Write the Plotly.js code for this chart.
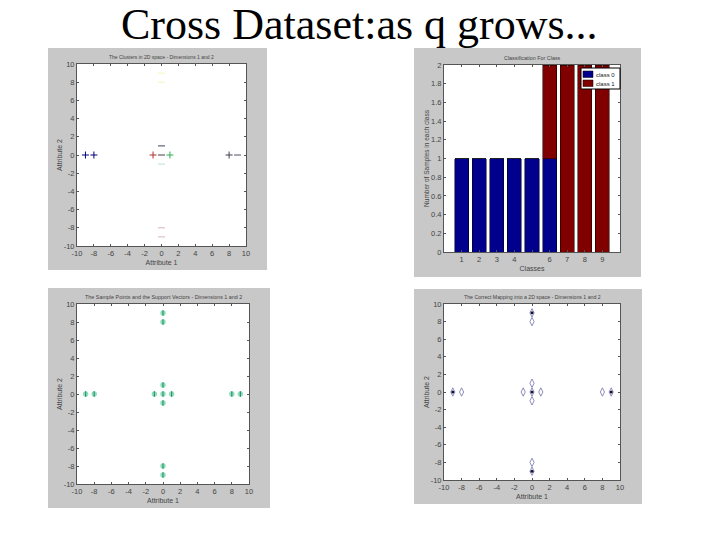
<!DOCTYPE html>
<html><head><meta charset="utf-8">
<script src="https://cdn.plot.ly/plotly-3.0.1.min.js"></script>
<style>html,body{margin:0;padding:0;background:#fff}#c{width:720px;height:540px}</style>
</head><body><div id="c"></div>
<script>
const clusterX=[[-9,-8],[-1],[0],[1],[8],[9],[0],[0],[0,0],[0,0]];
const clusterY=[[0,0],[0],[0],[0],[0],[0],[1],[-1],[8,9],[-8,-9]];
const clusterColors=['#000080','#b03030','#404040','#30b050','#404050','#505060','#404060','#b8e0e0','#f4f4c0','#d8b0c8'];
const clusterSymbols=['cross-thin','cross-thin','line-ew','cross-thin','cross-thin','line-ew','line-ew','line-ew','line-ew','line-ew'];
const allX=[-9,-8,-1,0,1,8,9,0,0,0,0,0,0];
const allY=[0,0,0,0,0,0,0,1,-1,8,9,-8,-9];
const svX=[-9,9,0,0,0];
const svY=[0,0,0,9,-9];
const classes=[1,2,3,4,5,6,7,8,9];
const class0=[1,1,1,1,1,1,0,0,0];
const class1=[0,0,0,0,0,1,2,2,2];
const classTicks=['1','2','3','4','','6','7','8','9'];
const rangeTicks=[-10,-8,-6,-4,-2,0,2,4,6,8,10];
const barTicks=[0,0.2,0.4,0.6,0.8,1,1.2,1.4,1.6,1.8,2];
const barTickText=['0','0.2','0.4','0.6','0.8','1','1.2','1.4','1.6','1.8','2'];
const legendLabels=['class 0','class 1'];
const legendColors=['#00008c','#800000'];

const W=720,H=540;
const panels=[
 {g:[48,48,267,270],a:[77,64,246,246]},
 {g:[414,48,641,277],a:[444,65,620,252]},
 {g:[48,288,270,508],a:[77,304,249,484]},
 {g:[414,289,642,504],a:[444,304,620,480]}];
const titles=['The Clusters in 2D space - Dimensions 1 and 2','Classification For Class','The Sample Points and the Support Vectors - Dimensions 1 and 2','The Correct Mapping into a 2D space - Dimensions 1 and 2'];
const titleSizes=[5,5.4,5.4,5.2];
const xlabels=['Attribute 1','Classes','Attribute 1','Attribute 1'];
const ylabels=['Attribute 2','Number of Samples in each class','Attribute 2','Attribute 2'];
const txt='#444';
const shapes=[],annotations=[],layout={};
const px=(v)=>v/W, py=(v)=>1-v/H;
panels.forEach((p,i)=>{
  shapes.push({type:'rect',xref:'paper',yref:'paper',layer:'below',x0:px(p.g[0]),x1:px(p.g[2]),y0:py(p.g[3]),y1:py(p.g[1]),fillcolor:'#c8c8c8',line:{width:0}});
  shapes.push({type:'rect',xref:'paper',yref:'paper',layer:'below',x0:px(p.a[0]),x1:px(p.a[2]),y0:py(p.a[3]),y1:py(p.a[1]),fillcolor:'#ffffff',line:{width:0}});
  const n=i?i+1:'';
  const common={showgrid:false,zeroline:false,showline:true,linecolor:'#555',linewidth:1,mirror:'ticks',ticks:'inside',ticklen:2,tickcolor:'#555',tickfont:{family:'Liberation Sans',size:7.5,color:txt},tickangle:0};
  const isBar=i===1;
  layout['xaxis'+n]=Object.assign({},common,{domain:[px(p.a[0]),px(p.a[2])],anchor:'y'+n,range:isBar?[0,10]:[-10,10],tickmode:'array',tickvals:isBar?classes:rangeTicks,ticktext:isBar?classTicks:rangeTicks.map(String),title:{text:xlabels[i],font:{family:'Liberation Sans',size:7,color:txt},standoff:3}});
  layout['yaxis'+n]=Object.assign({},common,{domain:[py(p.a[3]),py(p.a[1])],anchor:'x'+n,range:isBar?[0,2]:[-10,10],tickmode:'array',tickvals:isBar?barTicks:rangeTicks,ticktext:isBar?barTickText:rangeTicks.map(String),title:{text:ylabels[i],font:{family:'Liberation Sans',size:isBar?6.5:7,color:txt},standoff:0}});
  annotations.push({xref:'paper',yref:'paper',x:px((p.a[0]+p.a[2])/2),y:py(p.a[1]-7),text:titles[i],showarrow:false,font:{family:'Liberation Sans',size:titleSizes[i],color:txt},xanchor:'center',yanchor:'middle'});
});
annotations.push({xref:'paper',yref:'paper',x:px(359),y:py(25),text:'Cross Dataset:as q grows...',showarrow:false,font:{family:'Liberation Serif',size:44,color:'#000'},xanchor:'center',yanchor:'middle'});
shapes.push({type:'rect',xref:'paper',yref:'paper',layer:'above',x0:px(581),x1:px(620),y0:py(89),y1:py(68),fillcolor:'#fff',line:{color:'#000',width:1}});
legendLabels.forEach((t,i)=>{
  const top=71+i*9;
  shapes.push({type:'rect',xref:'paper',yref:'paper',layer:'above',x0:px(583),x1:px(593),y0:py(top+6.5),y1:py(top),fillcolor:legendColors[i],line:{color:'#000',width:0.5}});
  annotations.push({xref:'paper',yref:'paper',x:px(594),y:py(top+3.5),text:t,showarrow:false,xanchor:'left',yanchor:'middle',font:{family:'Liberation Sans',size:6,color:'#222'}});
});

const traces=[];
clusterX.forEach((xs,i)=>traces.push({type:'scatter',mode:'markers',x:xs,y:clusterY[i],xaxis:'x',yaxis:'y',marker:{symbol:clusterSymbols[i],size:5,line:{width:1,color:clusterColors[i]}}}));
traces.push({type:'bar',name:legendLabels[0],x:classes,y:class0,xaxis:'x2',yaxis:'y2',width:0.8,marker:{color:legendColors[0],line:{color:'#000',width:0.5}}});
traces.push({type:'bar',name:legendLabels[1],x:classes,y:class1,xaxis:'x2',yaxis:'y2',width:0.8,marker:{color:legendColors[1],line:{color:'#000',width:0.5}}});
traces.push({type:'scatter',mode:'markers',x:allX,y:allY,xaxis:'x3',yaxis:'y3',marker:{symbol:'circle',size:5.5,color:'#90e0b8'}});
traces.push({type:'scatter',mode:'markers',x:allX,y:allY,xaxis:'x3',yaxis:'y3',marker:{symbol:'line-ns',size:4,line:{width:1.2,color:'#2f8f78'}}});
traces.push({type:'scatter',mode:'markers',x:allX,y:allY,xaxis:'x4',yaxis:'y4',marker:{symbol:'diamond-tall-open',size:6,color:'#6060a0',line:{width:0.7,color:'#6060a0'}}});
traces.push({type:'scatter',mode:'markers',x:svX,y:svY,xaxis:'x4',yaxis:'y4',marker:{symbol:'circle',size:3,color:'#101030'}});

Object.assign(layout,{width:W,height:H,margin:{l:0,r:0,t:0,b:0},paper_bgcolor:'#fff',plot_bgcolor:'rgba(0,0,0,0)',barmode:'stack',shapes,annotations,showlegend:false});
Plotly.newPlot('c',traces,layout,{displayModeBar:false,staticPlot:true});
</script></body></html>
